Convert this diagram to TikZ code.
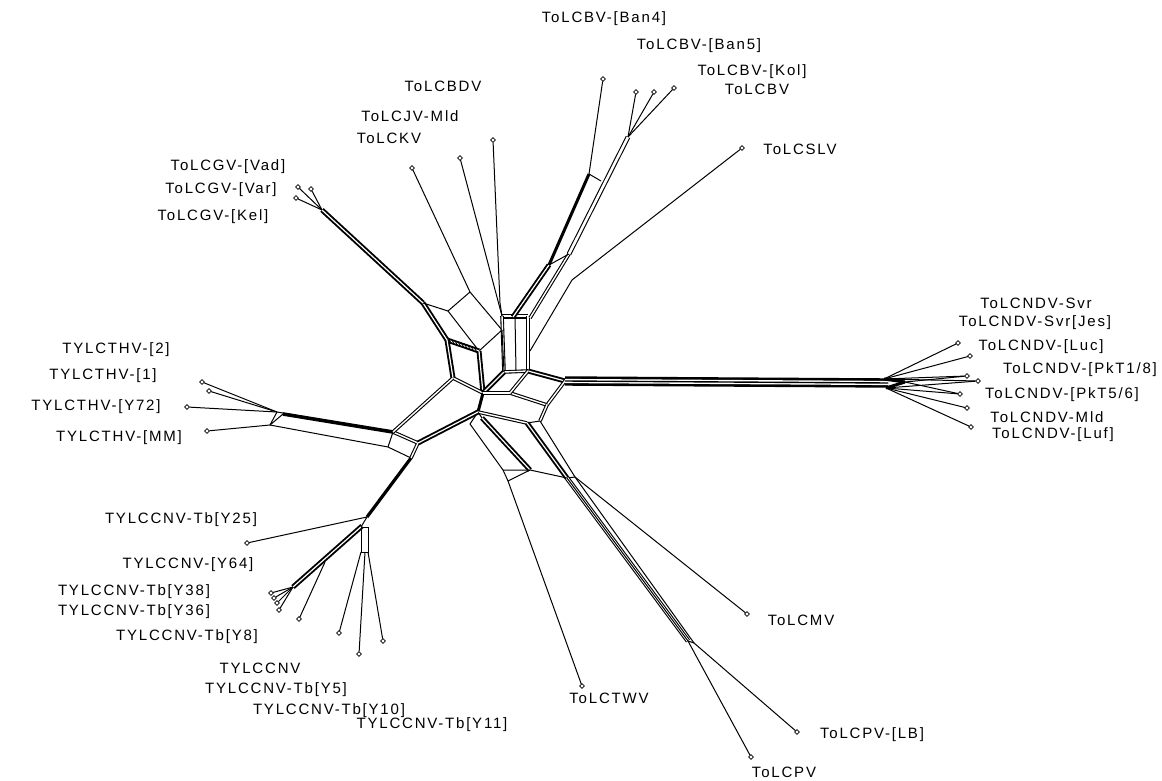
\documentclass[tikz,border=0pt]{standalone}
\usepackage{fontspec}
\setmainfont{Liberation Sans}[LetterSpace=12]
\usetikzlibrary{shapes.geometric,calc}
\begin{document}
\begin{tikzpicture}[x=1pt,y=-1pt,
  e/.style={line width=1pt},
  dbl/.style={line width=1.1pt, double, double distance=1.4pt},
  tdbl/.style={line width=1.9pt, double, double distance=1.2pt},
  wdbl/.style={line width=1.1pt, double, double distance=2.6pt},
  ndv/.style={line width=2.6pt, double, double distance=4.2pt},
  thk/.style={line width=3pt},
  leaf/.style={diamond, draw, line width=0.6pt, inner sep=0pt, minimum size=5pt, fill=white},
  lab/.style={font=\fontsize{15}{18}\selectfont, inner sep=0pt}
]
\useasboundingbox (0,0) rectangle (1162,781);
% ---------- hub coordinates
\coordinate (Pgv) at (423,303);
\coordinate (Pa) at (448,311);
\coordinate (Pkv) at (470,292);
\coordinate (Pc) at (502,330);
\coordinate (A1) at (447,340);
\coordinate (A2) at (479,351);
\coordinate (A3) at (453,378);
\coordinate (A4) at (483,393);
\coordinate (C) at (478,412);
\coordinate (B1) at (502,316);
\coordinate (B2) at (528,316);
\coordinate (Bm1) at (515,316);
\coordinate (Bm2) at (516,371);
\coordinate (B3) at (504,372);
\coordinate (B4) at (528,371);
\coordinate (R2) at (565,381);
\coordinate (R5) at (547,405);
\coordinate (Rq) at (510,393);
\coordinate (L0) at (527,423);
\coordinate (L0a) at (540,421);
\coordinate (L1) at (567,478);
\coordinate (L1r) at (575,477);
\coordinate (L2) at (688,641);
\coordinate (L2r) at (694,643);
\coordinate (M0) at (482,418);
\coordinate (M1) at (530,470);
\coordinate (T0) at (470,424);
\coordinate (T2a) at (503,470);
\coordinate (T2) at (508,481);
% top cluster
\coordinate (Q0) at (513,317);
\coordinate (Q0b) at (530,318);
\coordinate (Q1) at (549,265);
\coordinate (Q2) at (569,254);
\coordinate (U1) at (589,174);
\coordinate (U1b) at (601,181);
\coordinate (U2) at (628,137);
\coordinate (S1) at (530,351);
\coordinate (S2) at (572,280);
\coordinate (Bd) at (500,303);
% GV
\coordinate (G1) at (322,210);
% THV
\coordinate (Th3) at (277,412);
\coordinate (Th3c) at (283,414);
\coordinate (Th3b) at (270,425);
\coordinate (Th1) at (393,432);
\coordinate (Th6) at (418,443);
\coordinate (Th5) at (411,458);
\coordinate (Th7) at (388,447);
% CNV
\coordinate (J) at (367,517);
\coordinate (Jb) at (362,526);
\coordinate (F) at (293,587);
\coordinate (W) at (325,562);
\coordinate (K1) at (361,527);
\coordinate (K2) at (368,527);
\coordinate (K3) at (368,552);
\coordinate (K4) at (361,552);
\coordinate (K5) at (365,552);
% NDV
\coordinate (N1) at (888,383);
\coordinate (N1a) at (884,379);
\coordinate (N1b) at (886,388);
\coordinate (N2) at (905,382);

% ---------- leaves
\node[leaf] (ban4) at (603,79) {};
\node[leaf] (ban5) at (636,92) {};
\node[leaf] (kol) at (654,92) {};
\node[leaf] (bv) at (674,88) {};
\node[leaf] (slv) at (742,148) {};
\node[leaf] (bdv) at (493,140) {};
\node[leaf] (jv) at (460,158) {};
\node[leaf] (kv) at (412,168) {};
\node[leaf] (g1) at (298,187) {};
\node[leaf] (g2) at (311,189) {};
\node[leaf] (g3) at (296,198) {};
\node[leaf] (t2) at (202,382) {};
\node[leaf] (t1) at (209,391) {};
\node[leaf] (t72) at (187,407) {};
\node[leaf] (tmm) at (207,431) {};
\node[leaf] (c25) at (247,543) {};
\node[leaf] (c64) at (271,593) {};
\node[leaf] (c38) at (274,598) {};
\node[leaf] (c36) at (277,603) {};
\node[leaf] (c8a) at (279,610) {};
\node[leaf] (c8) at (299,619) {};
\node[leaf] (cc) at (339,633) {};
\node[leaf] (c5) at (359,654) {};
\node[leaf] (c10) at (383,641) {};
\node[leaf] (twv) at (582,686) {};
\node[leaf] (mv) at (747,614) {};
\node[leaf] (lb) at (797,732) {};
\node[leaf] (pv) at (751,757) {};
\node[leaf] (n1) at (958,343) {};
\node[leaf] (n2) at (970,356) {};
\node[leaf] (n3) at (967,376) {};
\node[leaf] (n4) at (978,381) {};
\node[leaf] (n5) at (960,394) {};
\node[leaf] (n6) at (967,408) {};
\node[leaf] (n7) at (971,427) {};

% ---------- hub edges
\draw[tdbl] (Pgv) -- (A1);
\draw[e] (Pgv) -- (Pa) -- (Pkv);
\draw[e] (Pa) -- (A2);
\draw[e] (Pkv) -- (Pc);
\draw[e] (A2) -- (Pc);
\draw[tdbl] (A1) -- (A2);
\foreach \s in {0.1,0.2,...,0.95}{\draw[line width=0.8pt] ($(A1)!\s!(A2)$) ++(-2,-3) -- ++(3,5);}
\draw[tdbl] (A1) -- (A3);
\draw[tdbl] (A2) -- (A4);
\draw[dbl] (A3) -- (A4);
\draw[thk] (A4) -- (C);
\draw[tdbl] (B1) -- (B2);
\draw[dbl] (B1) -- (B3);
\draw[dbl] (B2) -- (B4);
\draw[e] (Bm1) -- (Bm2);
\draw[dbl] (B3) -- (B4);
\draw[tdbl] (B3) -- (A4);
\draw[e] (Pc) -- (B3);
\draw[tdbl] (B4) -- (R2);
\draw[dbl] (R2) -- (R5);
\draw[dbl] (R5) -- (Rq);
\draw[dbl] (Rq) -- (B4);
\draw[dbl] (A4) -- (Rq);
\draw[dbl] (C) -- (L0);
\draw[dbl] (R5) -- (L0a);
\draw[e] (L0) -- (L0a);
% lower branches
\draw[tdbl] (L0) -- (L1);
\draw[e] (L0a) -- (L1r);
\draw[tdbl] (M0) -- (M1);
\draw[e] (C) -- (M0);
\draw[e] (T0) -- (T2a);
\draw[e] (C) -- (T0);
\draw[e] (T2a) -- (M1) -- (L1) -- (L1r);
\draw[e] (T2a) -- (T2);
\draw[e] (T2) -- (M1);
\draw[e] (T2) -- (twv);
\draw[wdbl] (L1) -- (L2);
\draw[e] (L1) -- (L2);
\draw[e] (L1r) -- (L2r);
\draw[e] (L2) -- (L2r);
\draw[e] (L2) -- (pv);
\draw[e] (L2r) -- (lb);
\draw[e] (L1r) -- (mv);
% NDV
\draw[ndv] (R2) -- (N1);
\draw[line width=1.4pt] (R2) -- (N1);
\draw[thk] (N1a) -- (N2);
\draw[thk] (N1b) -- (N2);
\foreach \n in {n1,n2,n3,n4}{\draw[e] (N1a) -- (\n);}
\foreach \n in {n4,n5,n6,n7}{\draw[e] (N1b) -- (\n);}
\draw[e] (N2) -- (n3);
\draw[e] (N2) -- (n5);
% top cluster
\draw[tdbl] (Q0) -- (Q1);
\draw[dbl] (Q0b) -- (Q2);
\draw[e] (Q1) -- (Q2);
\draw[thk] (Q1) -- (U1);
\draw[wdbl] (Q2) -- (U2);
\draw[e] (U1) -- (U1b);
\draw[e] (U1) -- (ban4);
\draw[e] (U2) -- (ban5);
\draw[e] (U2) -- (kol);
\draw[e] (U2) -- (bv);
\draw[e] (S1) -- (S2) -- (slv);
\draw[e] (B1) -- (Bd) -- (bdv);
\draw[e] (B1) -- (jv);
\draw[e] (Pkv) -- (kv);
% GV
\draw[tdbl] (G1) -- (Pgv);
\draw[e] (G1) -- (g1);
\draw[e] (G1) -- (g2);
\draw[e] (G1) -- (g3);
% THV
\draw[line width=3.6pt] (Th3c) -- (Th1);
\draw[e] (Th3) -- (Th1);
\draw[e] (Th3b) -- (Th7) -- (Th5);
\draw[e] (Th3) -- (Th3b);
\draw[e] (Th3c) -- (Th3b);
\draw[dbl] (Th1) -- (Th6) -- (Th5);
\draw[e] (Th7) -- (Th1);
\draw[dbl] (Th1) -- (A3);
\draw[tdbl] (Th6) -- (C);
\draw[e] (Th3) -- (t2);
\draw[e] (Th3) -- (t1);
\draw[e] (Th3) -- (t72);
\draw[e] (Th3b) -- (tmm);
% CNV
\draw[line width=3.2pt] (Th5) -- (J);
\draw[e] (J) -- (c25);
\draw[tdbl] (Jb) -- (F);
\foreach \n in {c64,c38,c36,c8a}{\draw[e] (F) -- (\n);}
\draw[e] (W) -- (c8);
\draw[e] (K1) -- (K2) -- (K3) -- (K4) -- cycle;
\draw[e] (J) -- (K1);
\draw[e] (K4) -- (cc);
\draw[e] (K5) -- (c5);
\draw[e] (K3) -- (c10);

% ---------- labels
\node[lab] (lban4) at (604,19) {ToLCBV-[Ban4]};
\node[lab] (lban5) at (699,46) {ToLCBV-[Ban5]};
\node[lab] (lkol) at (752,72) {ToLCBV-[Kol]};
\node[lab] (lbv) at (757,89) {ToLCBV};
\node[lab] (lslv) at (800,149) {ToLCSLV};
\node[lab] (lbdv) at (443,86) {ToLCBDV};
\node[lab] (ljv) at (410,116) {ToLCJV-Mld};
\node[lab] (lkv) at (389,138) {ToLCKV};
\node[lab] (lvad) at (228,167) {ToLCGV-[Vad]};
\node[lab] (lvar) at (221,190) {ToLCGV-[Var]};
\node[lab] (lkel) at (213,217) {ToLCGV-[Kel]};
\node[lab] (lt2) at (116,350) {TYLCTHV-[2]};
\node[lab] (lt1) at (103,376) {TYLCTHV-[1]};
\node[lab] (lt72) at (96,407) {TYLCTHV-[Y72]};
\node[lab] (ltmm) at (119,438) {TYLCTHV-[MM]};
\node[lab] (lc25) at (181,520) {TYLCCNV-Tb[Y25]};
\node[lab] (lc64) at (188,565) {TYLCCNV-[Y64]};
\node[lab] (lc38) at (134,592) {TYLCCNV-Tb[Y38]};
\node[lab] (lc36) at (134,612) {TYLCCNV-Tb[Y36]};
\node[lab] (lc8) at (187,637) {TYLCCNV-Tb[Y8]};
\node[lab] (lcc) at (260,668) {TYLCCNV};
\node[lab] (lc5) at (276,690) {TYLCCNV-Tb[Y5]};
\node[lab] (lc10) at (329,711) {TYLCCNV-Tb[Y10]};
\node[lab] (lc11) at (432,725) {TYLCCNV-Tb[Y11]};
\node[lab] (ltwv) at (609,698) {ToLCTWV};
\node[lab] (lmv) at (801,620) {ToLCMV};
\node[lab] (llb) at (872,735) {ToLCPV-[LB]};
\node[lab] (lpv) at (784,772) {ToLCPV};
\node[lab] (lsvr) at (1036,303) {ToLCNDV-Svr};
\node[lab] (ljes) at (1035,323) {ToLCNDV-Svr[Jes]};
\node[lab] (lluc) at (1041,347) {ToLCNDV-[Luc]};
\node[lab] (lpk1) at (1080,370) {ToLCNDV-[PkT1/8]};
\node[lab] (lpk5) at (1062,395) {ToLCNDV-[PkT5/6]};
\node[lab] (lmld) at (1047,417) {ToLCNDV-Mld};
\node[lab] (lluf) at (1053,435) {ToLCNDV-[Luf]};
\end{tikzpicture}
\end{document}
